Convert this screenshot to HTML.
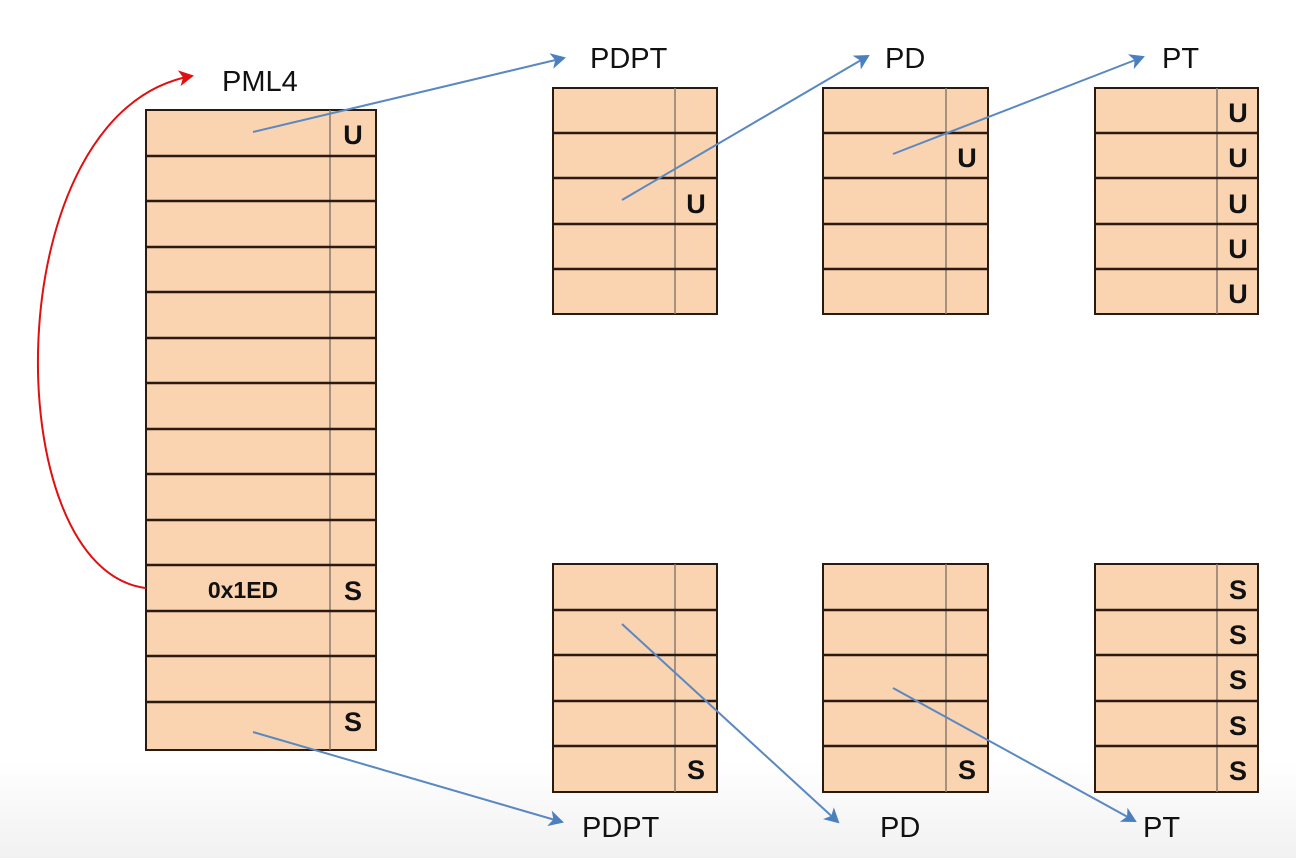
<!DOCTYPE html>
<html><head><style>
html,body{margin:0;padding:0;}
body{width:1296px;height:858px;overflow:hidden;background:linear-gradient(#fff 0,#fff 760px,#f1f1f1 858px);}
svg{position:absolute;left:0;top:0;}
text{font-family:"Liberation Sans",sans-serif;}
</style></head><body>
<svg width="1296" height="858" viewBox="0 0 1296 858">
<defs>
<marker id="ab" markerWidth="16" markerHeight="16" refX="13" refY="8" orient="auto" markerUnits="userSpaceOnUse"><path d="M0,0 L15,8 L0,16 L4,8 Z" fill="#4a7fc0"/></marker>
<marker id="ar" markerWidth="16" markerHeight="16" refX="13" refY="8" orient="auto" markerUnits="userSpaceOnUse"><path d="M0,0 L15,8 L0,16 L4,8 Z" fill="#e01010"/></marker>
</defs>
<g fill="#fad3b1" stroke="#2a1a10">
<rect x="146" y="110" width="230" height="640" stroke-width="2"/>
<line x1="330" y1="110" x2="330" y2="750" stroke="#8a7a70" stroke-width="1.5"/>
</g>
<g stroke="#2a1a10" stroke-width="2.5">
<line x1="146" y1="156" x2="376" y2="156"/><line x1="146" y1="201" x2="376" y2="201"/>
<line x1="146" y1="247" x2="376" y2="247"/><line x1="146" y1="292" x2="376" y2="292"/>
<line x1="146" y1="338" x2="376" y2="338"/><line x1="146" y1="383" x2="376" y2="383"/>
<line x1="146" y1="429" x2="376" y2="429"/><line x1="146" y1="474" x2="376" y2="474"/>
<line x1="146" y1="520" x2="376" y2="520"/><line x1="146" y1="565" x2="376" y2="565"/>
<line x1="146" y1="611" x2="376" y2="611"/><line x1="146" y1="656" x2="376" y2="656"/>
<line x1="146" y1="702" x2="376" y2="702"/>
</g>
<g fill="#fad3b1" stroke="#2a1a10" stroke-width="2">
<rect x="553" y="88" width="164" height="226"/><rect x="823" y="88" width="165" height="226"/><rect x="1095" y="88" width="163" height="226"/>
<rect x="553" y="564" width="164" height="228"/><rect x="823" y="564" width="165" height="228"/><rect x="1095" y="564" width="163" height="228"/>
</g>
<g stroke="#8a7a70" stroke-width="1.5">
<line x1="675" y1="88" x2="675" y2="314"/><line x1="946" y1="88" x2="946" y2="314"/><line x1="1217" y1="88" x2="1217" y2="314"/>
<line x1="675" y1="564" x2="675" y2="792"/><line x1="946" y1="564" x2="946" y2="792"/><line x1="1217" y1="564" x2="1217" y2="792"/>
</g>
<g stroke="#2a1a10" stroke-width="2.5">
<line x1="553" y1="133" x2="717" y2="133"/><line x1="553" y1="178" x2="717" y2="178"/><line x1="553" y1="224" x2="717" y2="224"/><line x1="553" y1="269" x2="717" y2="269"/>
<line x1="823" y1="133" x2="988" y2="133"/><line x1="823" y1="178" x2="988" y2="178"/><line x1="823" y1="224" x2="988" y2="224"/><line x1="823" y1="269" x2="988" y2="269"/>
<line x1="1095" y1="133" x2="1258" y2="133"/><line x1="1095" y1="178" x2="1258" y2="178"/><line x1="1095" y1="224" x2="1258" y2="224"/><line x1="1095" y1="269" x2="1258" y2="269"/>
<line x1="553" y1="610" x2="717" y2="610"/><line x1="553" y1="655" x2="717" y2="655"/><line x1="553" y1="701" x2="717" y2="701"/><line x1="553" y1="746" x2="717" y2="746"/>
<line x1="823" y1="610" x2="988" y2="610"/><line x1="823" y1="655" x2="988" y2="655"/><line x1="823" y1="701" x2="988" y2="701"/><line x1="823" y1="746" x2="988" y2="746"/>
<line x1="1095" y1="610" x2="1258" y2="610"/><line x1="1095" y1="655" x2="1258" y2="655"/><line x1="1095" y1="701" x2="1258" y2="701"/><line x1="1095" y1="746" x2="1258" y2="746"/>
</g>
<g font-size="27" font-weight="bold" fill="#111" text-anchor="middle">
<text x="353" y="144">U</text>
<text x="353" y="600">S</text>
<text x="353" y="731">S</text>
<text x="243" y="598" font-size="23">0x1ED</text>
<text x="696" y="213">U</text>
<text x="967" y="167">U</text>
<text x="1238" y="122">U</text><text x="1238" y="167">U</text><text x="1238" y="213">U</text><text x="1238" y="258">U</text><text x="1238" y="303">U</text>
<text x="696" y="779">S</text>
<text x="967" y="779">S</text>
<text x="1238" y="599">S</text><text x="1238" y="644">S</text><text x="1238" y="689">S</text><text x="1238" y="735">S</text><text x="1238" y="780">S</text>
</g>
<g font-size="29" fill="#111">
<text x="222" y="91">PML4</text>
<text x="590" y="68">PDPT</text>
<text x="885" y="68">PD</text>
<text x="1162" y="68">PT</text>
<text x="582" y="837">PDPT</text>
<text x="880" y="837">PD</text>
<text x="1143" y="837">PT</text>
</g>
<g stroke="#5a88c0" stroke-width="2" fill="none" marker-end="url(#ab)">
<line x1="253" y1="132" x2="564" y2="58"/>
<line x1="622" y1="200" x2="868" y2="56"/>
<line x1="893" y1="154" x2="1143" y2="57"/>
<line x1="253" y1="732" x2="562" y2="822"/>
<line x1="622" y1="624" x2="838" y2="822"/>
<line x1="893" y1="688" x2="1135" y2="821"/>
</g>
<path d="M146,588 C-5,570 -5,110 192,76" stroke="#e01010" stroke-width="2" fill="none" marker-end="url(#ar)"/>
</svg>
</body></html>
